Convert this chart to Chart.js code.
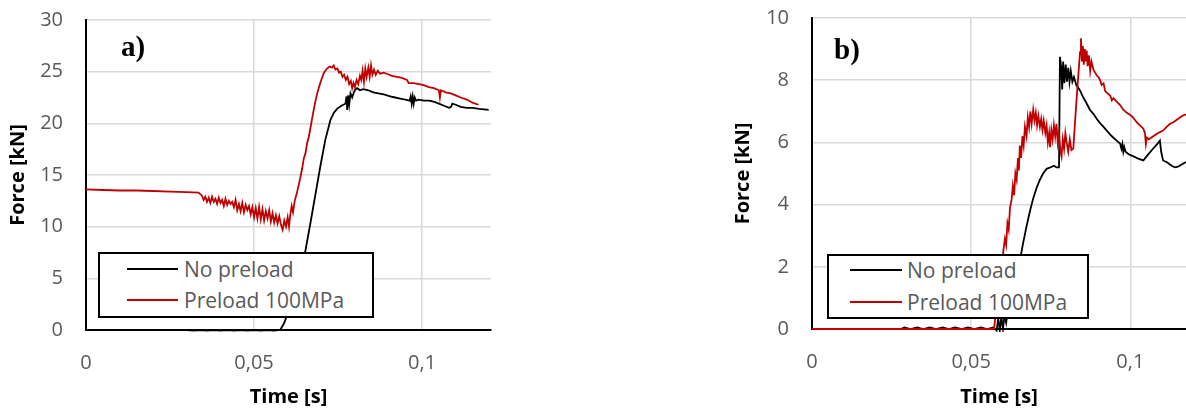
<!DOCTYPE html>
<html>
<head>
<meta charset="utf-8">
<script src="https://cdn.jsdelivr.net/npm/chart.js@4.4.1/dist/chart.umd.min.js"></script>
<style>
  body { margin: 0; background: #fff; }
  #wrap { position: relative; width: 1186px; height: 408px; overflow: hidden; }
  canvas { position: absolute; top: 0; }
  .legend { position: absolute; box-sizing: border-box; border: 2px solid #000; background: #fff;
            font-family: 'Open Sans', sans-serif; font-size: 21px; color: #595959; }
  .legend .row { position: absolute; height: 28px; line-height: 28px; white-space: nowrap; }
  .legend .swatch { position: absolute; height: 2px; }
  .panel { position: absolute; font-family: 'Liberation Serif', serif; font-weight: bold; font-size: 29px; color: #000; line-height: 1; }
</style>
</head>
<body>
<div id="wrap">
  <canvas id="chart-a" width="500" height="408" style="left:0px"></canvas>
  <canvas id="chart-b" width="496" height="408" style="left:690px"></canvas>
  <div class="panel" style="left:121px;top:32px">a)</div>
  <div class="panel" style="left:834px;top:35px">b)</div>
  <div class="legend" id="legend-a" style="left:98px;top:252px;width:276px;height:66px"></div>
  <div class="legend" id="legend-b" style="left:827px;top:254px;width:262px;height:65px"></div>
</div>
<script>
// series names / colours
const seriesNames = ['No preload', 'Preload 100MPa'];
const seriesColors = ['#000000', '#c00000'];

// axis ticks
const xTickValues = [0, 0.05, 0.1];
const xTickLabels = ['0', '0,05', '0,1'];
const yTicksA = [0, 5, 10, 15, 20, 25, 30];
const yTicksB = [0, 2, 4, 6, 8, 10];

// a) force [kN] vs time [s]
const noPreloadA = [
  [0,0],[0.030,0],[0.032,-0.06],[0.034,0],[0.036,-0.06],[0.038,0],[0.040,-0.06],[0.042,0],[0.044,-0.06],
  [0.046,0],[0.048,-0.06],[0.050,0],[0.052,-0.06],[0.054,0],[0.056,-0.06],[0.0578,0],
  [0.0590,0.7],[0.0600,1.6],[0.0610,2.6],[0.0620,3.8],[0.0635,5.6],[0.0653,7.7],[0.0668,10.4],[0.0683,13.2],
  [0.0697,15.8],[0.0712,18.4],[0.0727,20.3],[0.0737,21.0],[0.0747,21.4],[0.0760,21.7],[0.0772,21.9],[0.0775,22.6],
  [0.0777,21.3],[0.0780,22.7],[0.0783,21.8],[0.0787,22.9],[0.0792,22.5],[0.0797,23.0],[0.0802,23.3],[0.0807,23.4],
  [0.0815,23.2],[0.0825,23.3],[0.0840,23.2],[0.0855,23.0],[0.0870,22.9],[0.0886,22.8],[0.0905,22.6],[0.0920,22.5],
  [0.0935,22.4],[0.0950,22.3],[0.0963,22.2],[0.0966,22.6],[0.0969,21.9],[0.0972,22.6],[0.0975,21.9],[0.0978,22.5],
  [0.0982,22.2],[0.0990,22.3],[0.1005,22.2],[0.1020,22.2],[0.1034,22.1],[0.1050,21.9],[0.1065,21.7],[0.1080,21.5],
  [0.1086,21.6],[0.1090,21.9],[0.1100,21.8],[0.1115,21.6],[0.1133,21.5],[0.1150,21.5],[0.1170,21.4],[0.1185,21.35],
  [0.1198,21.3]
];
const preloadA = [
  [0,13.6],[0.005,13.55],[0.010,13.5],[0.015,13.5],[0.020,13.45],[0.025,13.4],[0.030,13.35],[0.0335,13.3],
  [0.0345,13.0],[0.0350,12.6],[0.0355,12.9],[0.0360,12.4],[0.0365,12.8],[0.0370,12.3],[0.0375,12.9],[0.0380,12.4],
  [0.0385,12.7],[0.0390,12.2],[0.0395,12.8],[0.0400,12.3],[0.0405,12.6],[0.0410,12.0],[0.0415,12.7],[0.0420,12.1],
  [0.0425,12.5],[0.0430,12.2],[0.0435,12.4],[0.0440,11.9],[0.0445,12.6],[0.0450,11.6],[0.0455,12.2],[0.0460,11.5],
  [0.0465,12.3],[0.0470,11.4],[0.0475,12.1],[0.0480,11.6],[0.0485,12.0],[0.0490,11.2],[0.0495,11.9],[0.0500,10.9],
  [0.0505,11.8],[0.0510,10.8],[0.0515,11.9],[0.0520,10.7],[0.0525,11.7],[0.0530,10.6],[0.0535,11.5],[0.0540,10.8],
  [0.0545,11.6],[0.0550,10.5],[0.0555,11.3],[0.0560,10.4],[0.0565,11.1],[0.0570,10.3],[0.0575,11.0],[0.0580,10.2],
  [0.0585,9.7],[0.0590,10.6],[0.0595,10.0],[0.0600,10.9],[0.0604,10.0],
  [0.0608,11.2],[0.0612,12.0],[0.0616,11.4],[0.0621,12.5],[0.0627,13.2],[0.0632,13.9],[0.0638,14.8],[0.0643,15.6],
  [0.0648,16.6],[0.0653,17.1],[0.0658,18.1],[0.0663,18.7],[0.0668,19.6],[0.0673,20.5],[0.0678,21.4],[0.0683,22.2],
  [0.0688,22.9],[0.0693,23.5],[0.0700,24.2],[0.0708,24.9],[0.0717,25.3],[0.0725,25.5],[0.0732,25.4],[0.0737,25.6],
  [0.0742,25.2],[0.0748,25.3],[0.0753,24.9],[0.0758,25.0],[0.0763,24.5],[0.0768,24.7],[0.0773,24.2],[0.0778,24.5],
  [0.0783,23.8],[0.0788,24.1],[0.0792,23.4],[0.0796,23.9],[0.0800,23.5],[0.0805,24.2],[0.0810,23.8],[0.0815,24.6],
  [0.0819,24.2],[0.0823,25.1],[0.0827,24.0],[0.0831,25.3],[0.0835,24.5],[0.0840,25.4],[0.0844,24.5],[0.0848,25.6],
  [0.0852,24.7],[0.0857,25.2],[0.0862,24.7],[0.0868,25.1],[0.0875,24.8],[0.0885,24.9],[0.0895,24.8],[0.0910,24.6],
  [0.0925,24.5],[0.0940,24.4],[0.0955,24.2],[0.0960,23.9],[0.0975,23.9],[0.0990,23.8],[0.1005,23.7],[0.1020,23.5],
  [0.1035,23.4],[0.1050,23.2],[0.1053,22.5],[0.1056,23.2],[0.1070,23.0],[0.1085,22.9],[0.1100,22.7],[0.1115,22.5],
  [0.1133,22.3],[0.1150,22.0],[0.1168,21.8]
];

// b) force [kN] vs time [s]
const noPreloadB = [
  [0,0],[0.028,0],[0.029,0.05],[0.031,0],[0.033,0.05],[0.035,0],[0.037,0.05],[0.039,0],[0.041,0.05],[0.043,0],
  [0.045,0.05],[0.047,0],[0.049,0.05],[0.051,0],[0.053,0.05],[0.055,0],[0.057,0.05],[0.0580,-0.05],[0.0585,0.35],
  [0.0590,-0.05],[0.0595,0.4],[0.0600,0.0],[0.0605,0.45],[0.0610,0.2],[0.0616,0.6],[0.0624,0.95],[0.0632,1.36],
  [0.0642,1.8],[0.0653,2.2],[0.0664,2.8],[0.0674,3.3],[0.0685,3.8],[0.0695,4.2],[0.0706,4.55],[0.0716,4.8],
  [0.0726,5.0],[0.0737,5.15],[0.0750,5.2],[0.0760,5.25],[0.0768,5.2],[0.0776,5.2],[0.0779,8.75],[0.0783,8.4],
  [0.0786,7.7],[0.0789,8.6],[0.0793,7.9],[0.0797,8.5],[0.0801,7.95],[0.0805,8.4],[0.0809,7.95],[0.0813,8.3],
  [0.0818,7.95],[0.0823,8.1],[0.0830,7.85],[0.0842,7.67],[0.0852,7.45],[0.0863,7.25],[0.0873,7.05],[0.0884,6.92],
  [0.0895,6.75],[0.0905,6.62],[0.0916,6.5],[0.0926,6.38],[0.0937,6.25],[0.0947,6.15],[0.0958,6.05],[0.0968,5.96],
  [0.0972,5.8],[0.0975,5.95],[0.0978,5.7],[0.0981,5.85],[0.0985,5.7],[0.0995,5.62],[0.1010,5.55],[0.1025,5.48],
  [0.1041,5.42],[0.1055,5.6],[0.1070,5.78],[0.1085,5.95],[0.1093,6.06],[0.1097,5.7],[0.1103,5.42],[0.1115,5.36],
  [0.1130,5.25],[0.1140,5.2],[0.1150,5.22],[0.1160,5.28],[0.1175,5.37]
];
const preloadB = [
  [0,0],[0.0572,0],[0.0576,0.4],[0.0580,1.0],[0.0584,1.6],[0.0588,1.3],[0.0592,2.0],[0.0597,1.9],[0.0601,2.5],
  [0.0606,2.9],[0.0610,2.7],[0.0614,3.4],[0.0618,3.2],[0.0622,3.9],[0.0627,4.15],[0.0631,4.6],[0.0635,4.3],
  [0.0639,5.0],[0.0643,4.8],[0.0647,5.5],[0.0650,5.1],[0.0653,5.9],[0.0657,5.5],[0.0661,6.2],[0.0665,5.9],
  [0.0669,6.5],[0.0674,6.2],[0.0678,6.8],[0.0682,6.5],[0.0686,7.0],[0.0690,6.6],[0.0695,7.05],[0.0699,6.7],
  [0.0703,6.95],[0.0707,6.55],[0.0711,6.85],[0.0716,6.5],[0.0720,6.75],[0.0724,6.4],[0.0728,6.7],[0.0733,6.3],
  [0.0737,6.55],[0.0741,6.0],[0.0745,6.3],[0.0748,5.85],[0.0752,6.4],[0.0756,6.1],[0.0760,6.55],[0.0764,6.2],
  [0.0768,6.6],[0.0772,6.0],[0.0776,6.3],[0.0780,5.75],[0.0784,5.55],[0.0788,6.1],[0.0792,5.8],[0.0796,6.3],
  [0.0800,6.0],[0.0805,5.7],[0.0810,6.1],[0.0815,5.75],[0.0821,5.8],[0.0826,6.6],[0.0832,7.5],[0.0837,8.2],
  [0.0842,8.9],[0.0845,9.35],[0.0848,8.6],[0.0851,9.1],[0.0854,8.5],[0.0857,9.0],[0.0860,8.6],[0.0863,8.95],
  [0.0866,8.45],[0.0870,8.8],[0.0874,8.3],[0.0878,8.6],[0.0884,8.35],[0.0889,8.25],[0.0895,8.15],[0.0900,8.1],
  [0.0905,8.0],[0.0910,7.85],[0.0916,7.9],[0.0921,7.65],[0.0926,7.6],[0.0932,7.55],[0.0937,7.5],[0.0942,7.35],
  [0.0947,7.42],[0.0958,7.3],[0.0968,7.2],[0.0978,7.05],[0.0989,6.95],[0.1000,6.88],[0.1009,6.8],[0.1020,6.65],
  [0.1030,6.55],[0.1041,6.44],[0.1046,6.3],[0.1049,5.95],[0.1052,6.15],[0.1058,6.1],[0.1065,6.15],[0.1072,6.2],
  [0.1080,6.25],[0.1088,6.3],[0.1093,6.33],[0.1103,6.38],[0.1114,6.5],[0.1125,6.6],[0.1135,6.65],[0.1145,6.72],
  [0.1156,6.8],[0.1167,6.87],[0.1175,6.9]
];

Chart.defaults.font.family = "'Open Sans', sans-serif";

function toPoints(arr) {
  return arr.map(p => ({x: p[0], y: p[1]}));
}

function makeChart(id, cfg) {
  new Chart(document.getElementById(id), {
    type: 'line',
    data: {
      datasets: [
        {label: seriesNames[0], data: toPoints(cfg.black), borderColor: seriesColors[0],
         borderWidth: 1.8, pointRadius: 0, order: 1, clip: 3},
        {label: seriesNames[1], data: toPoints(cfg.red), borderColor: seriesColors[1],
         borderWidth: 1.8, pointRadius: 0, order: 0, clip: 3}
      ]
    },
    options: {
      responsive: false,
      animation: false,
      layout: {padding: cfg.padding},
      plugins: {legend: {display: false}, tooltip: {enabled: false}},
      scales: {
        x: {
          type: 'linear',
          min: 0,
          max: cfg.xMax,
          afterBuildTicks: s => { s.ticks = xTickValues.map(v => ({value: v})); },
          afterFit: s => { s.height = cfg.xHeight; },
          grid: {color: '#d9d9d9', lineWidth: 1.5, drawTicks: false},
          border: {color: '#000', width: 2},
          ticks: {color: '#595959', font: {size: 20}, padding: 21,
                  callback: (v, i) => xTickLabels[i]},
          title: {display: true, text: 'Time [s]', color: '#000',
                  font: {size: 20, weight: 'bold'}, padding: {top: 0, bottom: -1}}
        },
        y: {
          min: 0,
          max: cfg.yTicks[cfg.yTicks.length - 1],
          afterBuildTicks: s => { s.ticks = cfg.yTicks.map(v => ({value: v})); },
          // fixed width, and let the layout padding decide the top
          afterFit: s => { s.width = cfg.yWidth; s.paddingTop = 0; s.paddingBottom = 0; },
          grid: {color: '#d9d9d9', lineWidth: 1.5, drawTicks: false},
          border: {color: '#000', width: 2},
          ticks: {color: '#595959', font: {size: 20}, padding: 23},
          title: {display: true, text: 'Force [kN]', color: '#000',
                  font: {size: 20, weight: 'bold'}, padding: {top: cfg.yTitlePad, bottom: 0}}
        }
      }
    }
  });
}

makeChart('chart-a', {black: noPreloadA, red: preloadA, xMax: 0.1205, yTicks: yTicksA,
  padding: {left: 0, top: 20, right: 9, bottom: 0}, xHeight: 78, yWidth: 86, yTitlePad: 6});
makeChart('chart-b', {black: noPreloadB, red: preloadB, xMax: 0.1175, yTicks: yTicksB,
  padding: {left: 0, top: 18, right: 0, bottom: 0}, xHeight: 79, yWidth: 122, yTitlePad: 41});

// legends built from the same series names and colours
function buildLegend(id, sw, rows) {
  const box = document.getElementById(id);
  seriesNames.forEach((name, i) => {
    const line = document.createElement('div');
    line.className = 'swatch';
    line.style.cssText = `left:${sw.left}px;width:${sw.width}px;top:${rows[i] - 1}px;background:${seriesColors[i]}`;
    box.appendChild(line);
    const row = document.createElement('div');
    row.className = 'row';
    row.style.cssText = `left:${sw.text}px;top:${rows[i] - 14}px`;
    row.textContent = name;
    box.appendChild(row);
  });
}
buildLegend('legend-a', {left: 27, width: 51, text: 84}, [14.5, 46]);
buildLegend('legend-b', {left: 20.5, width: 52, text: 78}, [13.5, 46]);
</script>
</body>
</html>
